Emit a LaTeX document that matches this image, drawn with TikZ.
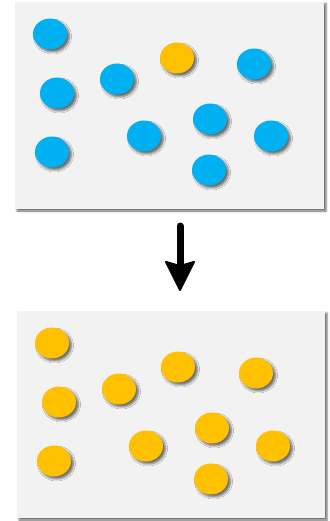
\documentclass[tikz,border=0pt]{standalone}
\usetikzlibrary{shapes.geometric,calc,shadows.blur}
\definecolor{dotblue}{HTML}{00B0F0}
\definecolor{dotorange}{HTML}{FFC000}
\definecolor{panelgray}{HTML}{F2F2F2}
\tikzset{
  panel/.style={fill=panelgray,draw=none,blur shadow={shadow xshift=2pt,shadow yshift=-2pt,shadow blur steps=4,shadow blur radius=2pt,shadow opacity=60}},
  dot/.style={ellipse,minimum width=34pt,minimum height=31pt,inner sep=0pt,draw=none,blur shadow={shadow xshift=2.5pt,shadow yshift=-2.5pt,shadow blur steps=5,shadow blur radius=2pt,shadow opacity=55}},
  bluedot/.style={dot,fill=dotblue},
  orangedot/.style={dot,fill=dotorange},
  shaft/.style={line width=7pt,line cap=round},
  head/.style={fill=black,draw=black,line width=2pt,line join=round}
}
\begin{document}
\begin{tikzpicture}[x=1pt,y=-1pt]
\useasboundingbox (0,0) rectangle (329,521);
% top panel
\path[panel] (15,2) rectangle (324,209);
\node[bluedot] (t1) at (50,34) {};
\node[orangedot] (t2) at (177,58) {};
\node[bluedot] (t3) at (254,64) {};
\node[bluedot] (t4) at (57,93) {};
\node[bluedot] (t5) at (117,79) {};
\node[bluedot] (t6) at (210,119) {};
\node[bluedot] (t7) at (144,136) {};
\node[bluedot] (t8) at (271,136) {};
\node[bluedot] (t9) at (52,152) {};
\node[bluedot] (t10) at (209,170) {};
% arrow
\coordinate (as) at (180,226);
\coordinate (ae) at (180,290);
\draw[shaft] (as) -- ($(ae)+(0,-20)$);
\path[head] (ae) -- ($(ae)+(-14,-28)$) -- ($(ae)+(0,-24)$) -- ($(ae)+(14,-28)$) -- cycle;
% bottom panel
\path[panel] (17,311) rectangle (325,518);
\node[orangedot] (b1) at (52,343) {};
\node[orangedot] (b2) at (178,367) {};
\node[orangedot] (b3) at (256,373) {};
\node[orangedot] (b4) at (59,402) {};
\node[orangedot] (b5) at (119,389) {};
\node[orangedot] (b6) at (212,428) {};
\node[orangedot] (b7) at (146,446) {};
\node[orangedot] (b8) at (273,446) {};
\node[orangedot] (b9) at (54,461) {};
\node[orangedot] (b10) at (211,479) {};
\end{tikzpicture}
\end{document}
